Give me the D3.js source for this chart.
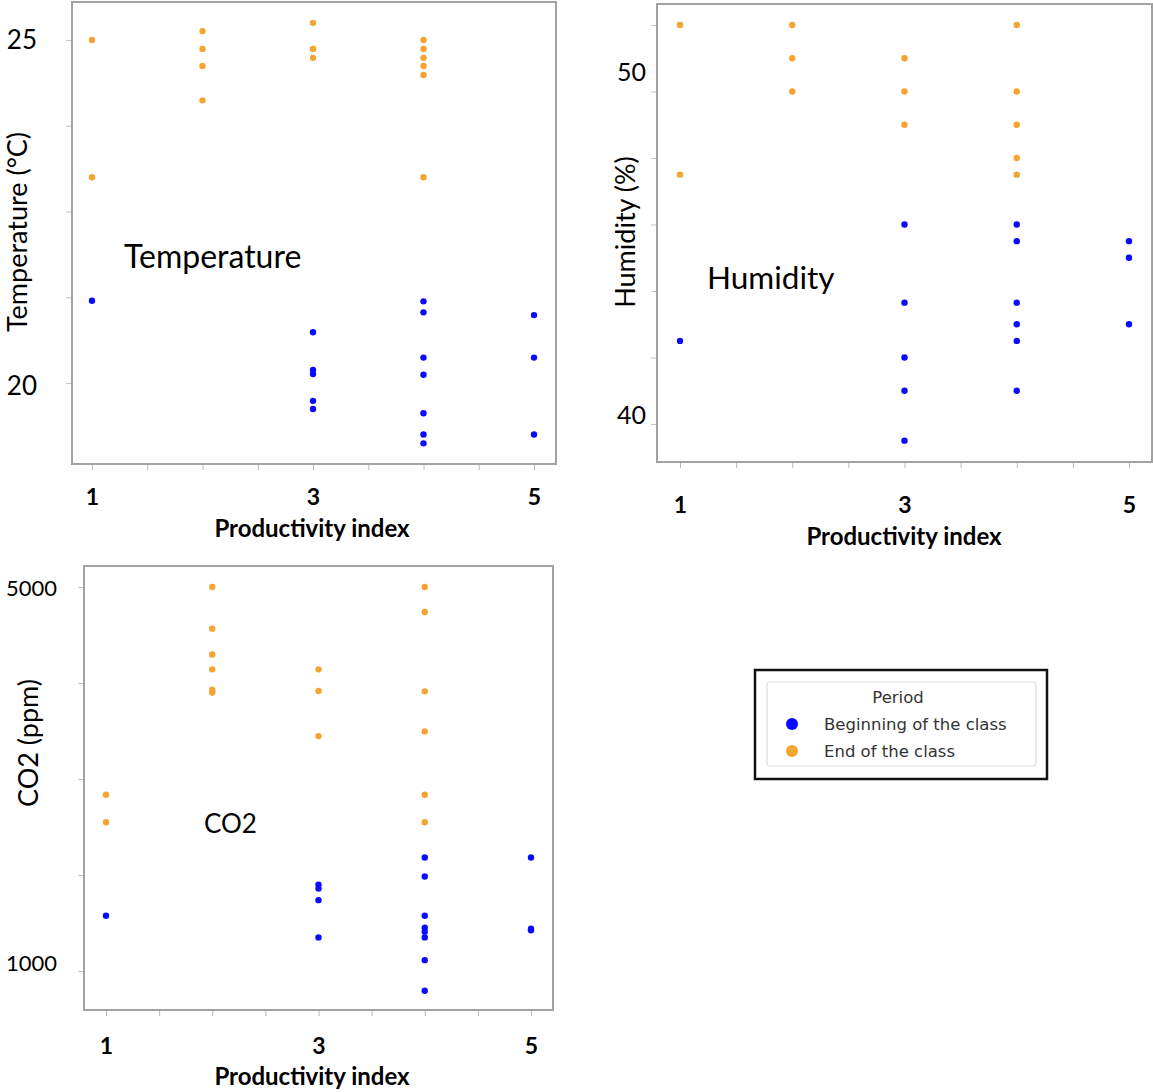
<!DOCTYPE html>
<html>
<head>
<meta charset="utf-8">
<script src="https://cdn.jsdelivr.net/npm/d3@7"></script>
<style>
    body { margin: 0; background: #fff; }
    svg { display: block; }
</style>
</head>
<body>
<script>
// ---- data ----
var xTicks = [1, 1.5, 2, 2.5, 3, 3.5, 4, 4.5, 5];
var xTickLabels = [1, 3, 5];

var tempTicks = [20, 21.25, 22.5, 23.75, 25];
var tempTickLabels = [20, 25];
var tempBegin = [[1, 21.2], [3, 20.74], [3, 20.19], [3, 20.13], [3, 19.74], [3, 19.62],
    [4, 21.19], [4, 21.03], [4, 20.37], [4, 20.12], [4, 19.56], [4, 19.25], [4, 19.12],
    [5, 20.99], [5, 20.37], [5, 19.25]];
var tempEnd = [[1, 25.0], [1, 23.0], [2, 25.13], [2, 24.87], [2, 24.62], [2, 24.12],
    [3, 25.25], [3, 24.87], [3, 24.74], [4, 25.0], [4, 24.87], [4, 24.74], [4, 24.62],
    [4, 24.49], [4, 23.0]];

var humTicks = [40, 42, 44, 46, 48, 50, 52];
var humTickLabels = [40, 50];
var humBegin = [[1, 42.5], [3, 46], [3, 43.65], [3, 42], [3, 41], [3, 39.5],
    [4, 46], [4, 45.5], [4, 43.65], [4, 43], [4, 42.5], [4, 41],
    [5, 45.5], [5, 45], [5, 43]];
var humEnd = [[1, 52], [1, 47.5], [2, 52], [2, 51], [2, 50], [3, 51], [3, 50], [3, 49],
    [4, 52], [4, 50], [4, 49], [4, 48], [4, 47.5]];

var co2Ticks = [1000, 2000, 3000, 4000, 5000];
var co2TickLabels = [1000, 5000];
var co2Begin = [[1, 1575], [3, 1900], [3, 1860], [3, 1738], [3, 1350],
    [4, 2183], [4, 1985], [4, 1575], [4, 1450], [4, 1410], [4, 1350], [4, 1113], [4, 795],
    [5, 2183], [5, 1440], [5, 1425]];
var co2End = [[1, 2836], [1, 2550], [2, 5000], [2, 4566], [2, 4297], [2, 4142], [2, 3930],
    [2, 3900], [3, 4142], [3, 3916], [3, 3447], [4, 5000], [4, 4739], [4, 3913], [4, 3496],
    [4, 2836], [4, 2550]];

var periods = ['Beginning of the class', 'End of the class'];
var colors = ['#0a0aff', '#f5a431'];

var FONT = 'Lato, "Open Sans", sans-serif';

window.document.addEventListener('DOMContentLoaded', init, false);

function init() {
    var svg = d3.select('body').append('svg')
        .attr('width', 1153)
        .attr('height', 1092);

    drawPanel(svg, {
        frame: [72, 2, 556, 464], xRange: [92, 534],
        yDomain: [20, 25], yRange: [383, 40],
        yTicks: tempTicks, yTickLabels: tempTickLabels,
        yLabelGap: 34, yTickFont: 26, yTickShift: {25: 0, 20: 3},
        xLabelY: 497, titleY: 529, titleX: 312,
        yTitle: 'Temperature (°C)', yTitleX: 18, yTitleY: 232,
        note: 'Temperature', noteX: 124, noteY: 257, noteFont: 32,
        begin: tempBegin, end: tempEnd
    });

    drawPanel(svg, {
        frame: [657, 4, 1152, 462], xRange: [680, 1129],
        yDomain: [40, 52], yRange: [424, 25],
        yTicks: humTicks, yTickLabels: humTickLabels,
        yLabelGap: 10, yTickFont: 25, yTickShift: {50: -19, 40: -9},
        xLabelY: 505, titleY: 537, titleX: 904,
        yTitle: 'Humidity (%)', yTitleX: 626, yTitleY: 232,
        note: 'Humidity', noteX: 707, noteY: 278, noteFont: 31.5,
        begin: humBegin, end: humEnd
    });

    drawPanel(svg, {
        frame: [84, 566, 553, 1010], xRange: [106, 531],
        yDomain: [1000, 5000], yRange: [971, 587],
        yTicks: co2Ticks, yTickLabels: co2TickLabels,
        yLabelGap: 26, yTickFont: 22, yTickShift: {5000: 0, 1000: -9},
        xLabelY: 1046, titleY: 1077, titleX: 312,
        yTitle: 'CO2 (ppm)', yTitleX: 29, yTitleY: 743,
        note: 'CO2', noteX: 204, noteY: 824, noteFont: 26,
        begin: co2Begin, end: co2End
    });

    drawLegend(svg);
}

function drawPanel(svg, p) {
    var g = svg.append('g');
    var x = d3.scaleLinear().domain([1, 5]).range(p.xRange);
    var y = d3.scaleLinear().domain(p.yDomain).range(p.yRange);

    g.append('rect')
        .attr('x', p.frame[0])
        .attr('y', p.frame[1])
        .attr('width', p.frame[2] - p.frame[0])
        .attr('height', p.frame[3] - p.frame[1])
        .attr('fill', 'none')
        .attr('stroke', '#a2a2a2')
        .attr('stroke-width', 2);

    // x axis: ticks every 0.5, labels on 1, 3, 5
    var xAxis = g.append('g')
        .attr('transform', `translate(0,${p.frame[3] + 1})`)
        .call(d3.axisBottom(x)
            .tickValues(xTicks)
            .tickSize(5)
            .tickFormat((d) => xTickLabels.includes(d) ? d : ''));
    xAxis.select('.domain').remove();
    xAxis.selectAll('line').attr('stroke', '#b8b8b8');
    xAxis.attr('font-family', FONT).attr('font-size', 23).attr('font-weight', 'bold');
    xAxis.selectAll('text')
        .attr('fill', '#000')
        .attr('y', p.xLabelY - p.frame[3] - 1)
        .attr('dy', '0.35em');

    // y axis, only two values labelled
    var yAxis = g.append('g')
        .attr('transform', `translate(${p.frame[0] - 1},0)`)
        .call(d3.axisLeft(y)
            .tickValues(p.yTicks)
            .tickSize(5)
            .tickFormat((d) => p.yTickLabels.includes(d) ? d : ''));
    yAxis.select('.domain').remove();
    yAxis.selectAll('line').attr('stroke', '#c4c4c4');
    yAxis.attr('font-family', FONT).attr('font-size', p.yTickFont);
    yAxis.selectAll('text')
        .attr('fill', '#000')
        .attr('x', -p.yLabelGap)
        .attr('dy', (d) => (p.yTickShift[d] || 0) + 8);

    g.append('text')
        .attr('x', p.titleX)
        .attr('y', p.titleY)
        .attr('dy', '0.35em')
        .attr('text-anchor', 'middle')
        .attr('font-family', FONT)
        .attr('font-weight', 'bold')
        .attr('font-size', 24)
        .text('Productivity index');

    g.append('text')
        .attr('transform', `translate(${p.yTitleX},${p.yTitleY}) rotate(-90)`)
        .attr('dy', '0.35em')
        .attr('text-anchor', 'middle')
        .attr('font-family', FONT)
        .attr('font-size', 27)
        .text(p.yTitle);

    g.append('text')
        .attr('x', p.noteX)
        .attr('y', p.noteY)
        .attr('dy', '0.35em')
        .attr('font-family', FONT)
        .attr('font-size', p.noteFont)
        .text(p.note);

    [p.begin, p.end].forEach((series, i) => {
        g.selectAll('.pt' + i)
            .data(series)
            .enter()
                .append('circle')
                .attr('class', 'pt' + i)
                .attr('cx', (d) => x(d[0]))
                .attr('cy', (d) => y(d[1]))
                .attr('r', 3.2)
                .attr('fill', colors[i]);
    });
}

function drawLegend(svg) {
    var g = svg.append('g');

    g.append('rect')
        .attr('x', 755).attr('y', 670)
        .attr('width', 292).attr('height', 109)
        .attr('fill', '#fff')
        .attr('stroke', '#111')
        .attr('stroke-width', 2.5);

    g.append('rect')
        .attr('x', 767).attr('y', 682)
        .attr('width', 269).attr('height', 84)
        .attr('rx', 3)
        .attr('fill', '#fff')
        .attr('stroke', '#dcdcdc')
        .attr('stroke-width', 1.2);

    g.append('text')
        .attr('x', 898).attr('y', 697)
        .attr('dy', '0.35em')
        .attr('text-anchor', 'middle')
        .attr('font-family', 'DejaVu Sans')
        .attr('font-size', 16.5)
        .attr('fill', '#333')
        .text('Period');

    var item = g.selectAll('.item')
        .data(periods)
        .enter()
            .append('g')
            .attr('class', 'item')
            .attr('transform', (d, i) => `translate(0,${724 + i * 27})`);

    item.append('circle')
        .attr('cx', 792)
        .attr('r', 6)
        .attr('fill', (d, i) => colors[i]);

    item.append('text')
        .attr('x', 824)
        .attr('dy', '0.35em')
        .attr('font-family', 'DejaVu Sans')
        .attr('font-size', 16.5)
        .attr('fill', '#333')
        .text((d) => d);
}
</script>
</body>
</html>
